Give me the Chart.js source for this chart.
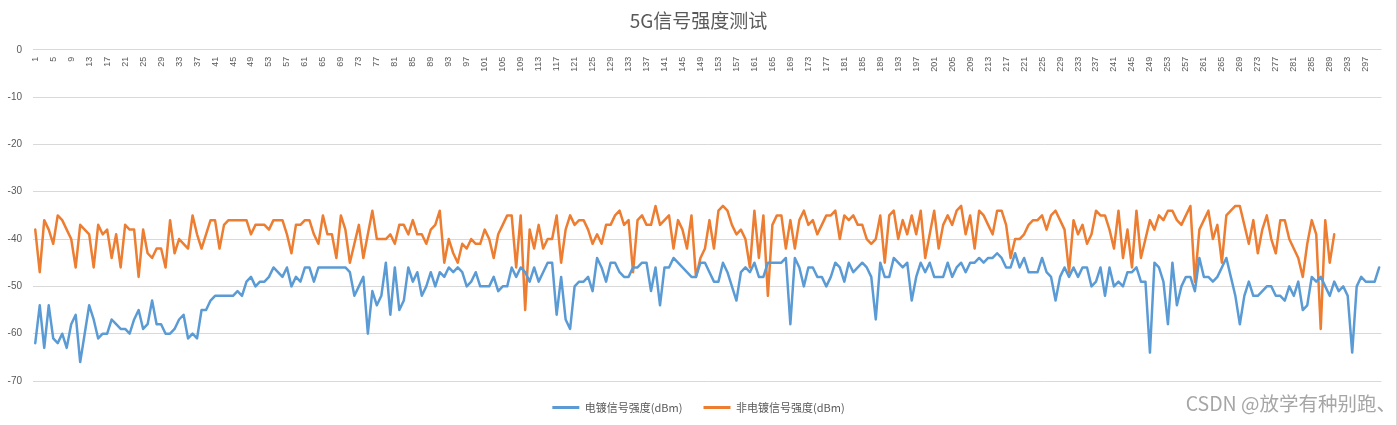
<!DOCTYPE html>
<html>
<head>
<meta charset="utf-8">
<script src="https://cdn.jsdelivr.net/npm/chart.js@4/dist/chart.umd.min.js"></script>
<style>
  html, body { margin: 0; padding: 0; background: #fff; }
  #wrap { position: relative; width: 1397px; height: 425px; }
  #edge { position: absolute; left: 1396px; top: 0; width: 1px; height: 425px; background: #d9d9d9; }
  #wm { position: absolute; right: 1px; bottom: 8px; font: 19.5px 'Noto Sans CJK SC', sans-serif; color: #a6a6a6; white-space: nowrap; }
</style>
</head>
<body>
<div id="wrap">
  <canvas id="c" width="1397" height="425"></canvas>
  <div id="edge"></div>
  <div id="wm">CSDN @放学有种别跑、</div>
</div>
<script>
const titleText = '5G信号强度测试';
const seriesNames = ['电镀信号强度(dBm)', '非电镀信号强度(dBm)'];
const yTicks = [0, -10, -20, -30, -40, -50, -60, -70];
const categoryCount = 300;
const categories = Array.from({length: categoryCount}, (_, i) => String(i + 1));

const platedValues = [
-62,-54,-63,-54,-61,-62,-60,-63,-58,-56,
-66,-60,-54,-57,-61,-60,-60,-57,-58,-59,
-59,-60,-57,-55,-59,-58,-53,-58,-58,-60,
-60,-59,-57,-56,-61,-60,-61,-55,-55,-53,
-52,-52,-52,-52,-52,-51,-52,-49,-48,-50,
-49,-49,-48,-46,-47,-48,-46,-50,-48,-49,
-46,-46,-49,-46,-46,-46,-46,-46,-46,-46,
-47,-52,-50,-48,-60,-51,-54,-52,-45,-56,
-46,-55,-53,-46,-49,-47,-52,-50,-47,-50,
-47,-48,-46,-47,-46,-47,-50,-49,-47,-50,
-50,-50,-48,-51,-50,-50,-46,-48,-46,-47,
-49,-46,-49,-47,-45,-45,-56,-48,-57,-59,
-50,-49,-49,-48,-51,-44,-46,-49,-45,-45,
-47,-48,-48,-46,-46,-45,-45,-51,-46,-54,
-46,-46,-44,-45,-46,-47,-48,-48,-45,-45,
-47,-49,-49,-45,-47,-50,-53,-47,-46,-47,
-45,-48,-48,-45,-45,-45,-45,-44,-58,-44,
-46,-50,-46,-46,-48,-48,-50,-48,-45,-46,
-49,-45,-47,-46,-45,-46,-48,-57,-45,-48,
-48,-44,-45,-46,-45,-53,-48,-45,-47,-45,
-48,-48,-48,-45,-48,-46,-45,-47,-45,-45,
-44,-45,-44,-44,-43,-44,-46,-46,-43,-46,
-44,-47,-47,-47,-44,-47,-48,-53,-48,-46,
-48,-46,-48,-46,-46,-50,-49,-46,-52,-46,
-50,-49,-50,-47,-47,-46,-49,-49,-64,-45,
-46,-49,-58,-45,-54,-50,-48,-48,-51,-44,
-48,-48,-49,-48,-46,-44,-48,-52,-58,-52,
-49,-52,-52,-51,-50,-50,-52,-52,-53,-50,
-52,-49,-55,-54,-48,-49,-48,-50,-52,-49,
-51,-50,-52,-64,-50,-48,-49,-49,-49,-46
];

const unplatedValues = [
-38,-47,-36,-38,-41,-35,-36,-38,-40,-46,
-37,-38,-39,-46,-37,-39,-38,-44,-39,-46,
-37,-38,-38,-48,-38,-43,-44,-42,-42,-46,
-36,-43,-40,-41,-42,-35,-39,-42,-39,-36,
-36,-42,-37,-36,-36,-36,-36,-36,-39,-37,
-37,-37,-38,-36,-36,-36,-39,-43,-37,-37,
-36,-36,-39,-41,-35,-39,-39,-44,-35,-38,
-45,-41,-37,-44,-39,-34,-40,-40,-40,-39,
-41,-37,-37,-39,-36,-39,-39,-41,-38,-37,
-34,-45,-40,-43,-45,-41,-42,-40,-41,-41,
-38,-40,-44,-39,-37,-35,-35,-46,-35,-55,
-38,-42,-37,-42,-40,-40,-35,-45,-38,-35,
-37,-36,-36,-38,-41,-39,-41,-37,-37,-35,
-34,-37,-36,-47,-36,-35,-37,-37,-33,-37,
-36,-35,-42,-36,-38,-42,-35,-48,-44,-42,
-36,-42,-34,-33,-34,-37,-39,-38,-40,-46,
-34,-44,-35,-52,-37,-35,-35,-42,-36,-42,
-36,-34,-37,-36,-39,-37,-35,-35,-34,-40,
-35,-36,-35,-37,-37,-40,-41,-40,-35,-45,
-35,-34,-40,-36,-39,-35,-39,-34,-44,-39,
-34,-42,-37,-35,-37,-34,-33,-39,-35,-42,
-34,-35,-37,-39,-34,-34,-37,-44,-40,-40,
-39,-37,-36,-36,-35,-38,-35,-34,-36,-38,
-47,-36,-39,-37,-41,-39,-34,-35,-35,-38,
-42,-34,-44,-38,-46,-34,-44,-40,-36,-38,
-35,-36,-34,-34,-36,-37,-35,-33,-49,-38,
-36,-34,-40,-37,-45,-35,-34,-33,-33,-37,
-41,-36,-43,-38,-35,-40,-43,-36,-36,-40,
-42,-44,-48,-41,-36,-39,-59,-36,-45,-39
];

const FONT = "'Noto Sans CJK SC', 'Liberation Sans', sans-serif";
const NUMFONT = "'Liberation Sans', 'Noto Sans CJK SC', sans-serif";

new Chart(document.getElementById('c'), {
  type: 'line',
  data: {
    labels: categories,
    datasets: [
      { label: seriesNames[0], data: platedValues, borderColor: '#5B9BD5', backgroundColor: '#5B9BD5', borderWidth: 2.5, pointRadius: 0, tension: 0, borderJoinStyle: 'round', borderCapStyle: 'round' },
      { label: seriesNames[1], data: unplatedValues, borderColor: '#ED7D31', backgroundColor: '#ED7D31', borderWidth: 2.5, pointRadius: 0, tension: 0, borderJoinStyle: 'round', borderCapStyle: 'round' }
    ]
  },
  options: {
    responsive: false,
    animation: false,
    devicePixelRatio: 1,
    layout: { padding: { left: 0, right: 0, top: 0, bottom: 2 } },
    plugins: {
      title: { display: true, text: titleText, color: '#595959', font: { family: FONT, size: 19, weight: 'normal' }, padding: { top: 9, bottom: 18 } },
      legend: {
        position: 'bottom',
        labels: {
          boxWidth: 27, boxHeight: 3, padding: 21, color: '#595959',
          font: { family: FONT, size: 11 },
          generateLabels: (chart) => Chart.defaults.plugins.legend.labels.generateLabels(chart).map(l => Object.assign(l, { lineWidth: 0 }))
        }
      },
      tooltip: { enabled: false }
    },
    scales: {
      x: {
        type: 'category',
        offset: true,
        position: { y: 0 },
        grid: { display: false, drawTicks: false },
        border: { display: false },
        ticks: {
          autoSkip: false, minRotation: 90, maxRotation: 90, padding: 7,
          color: '#595959', font: { family: NUMFONT, size: 9 },
          callback: function (v, i) { return i % 4 === 0 ? this.getLabelForValue(v) : ''; }
        }
      },
      y: {
        min: -70, max: 0,
        afterFit: (s) => { s.width = 33; },
        afterBuildTicks: (s) => { s.ticks = yTicks.map(v => ({ value: v })); },
        grid: { color: '#d9d9d9', lineWidth: 1, drawTicks: false },
        border: { display: false },
        ticks: { padding: 11, color: '#595959', font: { family: NUMFONT, size: 10 } }
      },
      yRightGap: {
        type: 'linear',
        position: 'right',
        min: -70, max: 0,
        afterFit: (s) => { s.width = 14.5; },
        grid: { display: false, drawTicks: false },
        border: { display: false },
        ticks: { display: false }
      }
    }
  }
});
</script>
</body>
</html>
